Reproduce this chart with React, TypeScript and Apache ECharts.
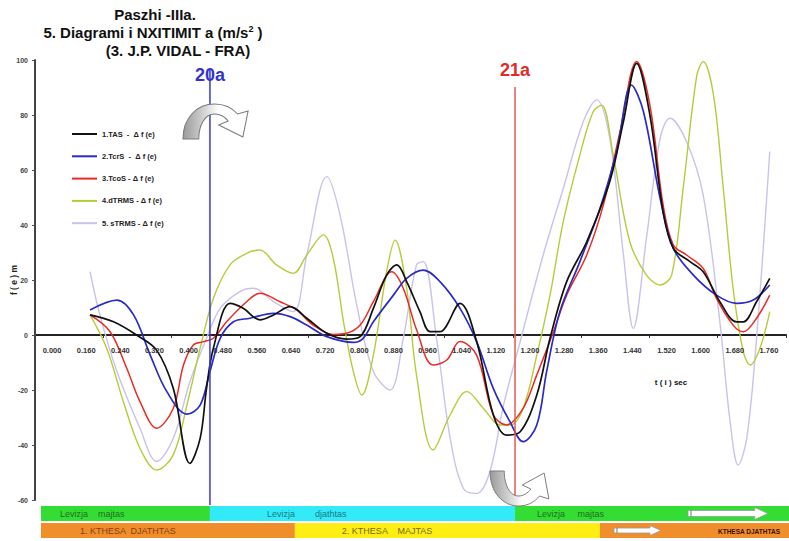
import React, { useEffect, useRef } from "react";
import * as echarts from "echarts";

const FONT = "'Liberation Sans', Arial, sans-serif";

// ---- axis ----
const tickLabels = ["0.000", "0.160", "0.240", "0.320", "0.400", "0.480", "0.560", "0.640", "0.720", "0.800", "0.880", "0.960", "1.040", "1.120", "1.200", "1.280", "1.360", "1.440", "1.520", "1.600", "1.680", "1.760"];
const yMin = -60;
const yMax = 100;
const yStep = 20;
const tMin = 0.04;
const tMax = 1.8;

// ---- series ----
const names = ["1.TAS  -  Δ f (e)", "2.TcrS  -  Δ f (e)", "3.TcoS - Δ f (e)", "4.dTRMS - Δ f (e)", "5. sTRMS - Δ f (e)"];
const colors = ["#111111", "#2b2bc6", "#ea2b24", "#b7cb3a", "#c9c2ec"];
const widths = [1.7, 1.7, 1.5, 1.4, 1.4];

const tas = [[0.169, 7.3], [0.224, 4.8], [0.278, 0], [0.325, -5.5], [0.364, -19.4], [0.403, -46.7], [0.427, -37.6], [0.442, -19.4], [0.458, -4.8], [0.497, 11.5], [0.528, 9.7], [0.567, 5.5], [0.599, 7.3], [0.638, 10.3], [0.677, 6.1], [0.724, 0.6], [0.77, -1.5], [0.802, -0.6], [0.833, 9.7], [0.864, 21.8], [0.888, 25.5], [0.911, 19.4], [0.942, 8.5], [0.966, 1.2], [0.989, 1.2], [1.036, 11.5], [1.075, -2.4], [1.114, -29], [1.145, -36.4], [1.177, -35.2], [1.216, -21.8], [1.247, -1.2], [1.286, 19.4], [1.333, 33.9], [1.387, 55.8], [1.419, 77.6], [1.45, 98.8], [1.481, 80], [1.512, 44.8], [1.536, 31.5], [1.575, 26.7], [1.606, 23], [1.645, 12.1], [1.684, 4.8], [1.7, 4.8], [1.731, 12.1], [1.762, 20.6]];
const tcrs = [[0.169, 9.1], [0.232, 12.7], [0.271, 7.3], [0.31, -7.3], [0.349, -20.6], [0.396, -28.8], [0.427, -25.5], [0.45, -13.3], [0.474, -1.2], [0.505, 4.8], [0.544, 6.1], [0.599, 7.9], [0.638, 6.7], [0.677, 3.6], [0.724, -0.6], [0.786, -2.7], [0.809, -1.2], [0.833, 4.8], [0.88, 14.5], [0.911, 20.6], [0.95, 23.6], [0.989, 19.4], [1.036, 9.7], [1.075, -2.4], [1.114, -19.4], [1.153, -31.5], [1.184, -38.8], [1.216, -32.7], [1.239, -13.3], [1.27, 8.5], [1.317, 26.7], [1.364, 46], [1.403, 66.7], [1.438, 90.9], [1.466, 81.2], [1.505, 49.7], [1.536, 31.5], [1.583, 21.8], [1.637, 14.5], [1.684, 11.5], [1.723, 12.7], [1.762, 18.2]];
const tcos = [[0.169, 7.3], [0.216, 1.2], [0.255, -12.1], [0.286, -24.2], [0.325, -33.9], [0.364, -26.7], [0.388, -10.9], [0.411, -3.6], [0.435, -2.4], [0.458, -1.2], [0.489, 4.8], [0.536, 12.1], [0.567, 15.2], [0.614, 12.1], [0.653, 9.1], [0.692, 3.6], [0.739, 0.2], [0.77, 0.6], [0.802, 3.6], [0.833, 12.1], [0.876, 23], [0.903, 17], [0.934, 2], [0.973, -10.9], [1.005, -9.1], [1.036, -2.4], [1.075, -7.3], [1.114, -29], [1.145, -32.7], [1.184, -26.7], [1.216, -14.5], [1.255, 1.2], [1.286, 14.5], [1.333, 29.1], [1.372, 47.3], [1.411, 73.9], [1.45, 99.5], [1.481, 83.6], [1.512, 47.3], [1.536, 32.7], [1.567, 29.1], [1.606, 24.2], [1.637, 13.3], [1.676, 3.6], [1.7, 1.2], [1.731, 6.1], [1.762, 14.5]];
const dtrms = [[0.169, 7.3], [0.208, -4.8], [0.247, -24.2], [0.286, -41.2], [0.325, -49.1], [0.364, -43.6], [0.396, -25.5], [0.427, -4.8], [0.458, 13.3], [0.497, 25.5], [0.536, 29.7], [0.567, 30.9], [0.606, 25.5], [0.645, 22.4], [0.677, 29.1], [0.716, 36.4], [0.739, 27.9], [0.763, 4.8], [0.786, -13.3], [0.806, -21.8], [0.833, -7.3], [0.864, 23], [0.884, 34.5], [0.911, 17], [0.934, -14.5], [0.973, -41.8], [1.013, -29], [1.052, -20.6], [1.091, -26.7], [1.13, -32.7], [1.153, -32.7], [1.184, -26.7], [1.216, -7.3], [1.247, 14.5], [1.278, 41.2], [1.317, 65.5], [1.348, 81.2], [1.368, 83.6], [1.395, 65.5], [1.434, 33.9], [1.473, 21.8], [1.505, 18.2], [1.532, 21.8], [1.559, 53.3], [1.591, 94.5], [1.606, 99.4], [1.63, 87.3], [1.653, 53.3], [1.676, 17], [1.7, -6.1], [1.716, -10.9], [1.739, -4.8], [1.762, 8.5]];
const strms = [[0.169, 23], [0.192, 7.3], [0.232, -13.3], [0.286, -33.9], [0.325, -46], [0.364, -37.6], [0.403, -17], [0.442, -1.2], [0.474, 9.7], [0.52, 15.8], [0.552, 17], [0.599, 12.1], [0.645, 8.5], [0.677, 29.1], [0.724, 57.6], [0.755, 43.6], [0.794, 10.9], [0.833, -13.3], [0.872, -20], [0.903, -1.2], [0.934, 25.5], [0.95, 26.7], [0.981, -1.2], [1.013, -37.6], [1.044, -55.8], [1.075, -57.6], [1.106, -49.7], [1.138, -25.5], [1.177, -2.4], [1.231, 29.1], [1.278, 53.3], [1.325, 77.6], [1.356, 85.5], [1.387, 71.5], [1.419, 29.1], [1.442, 2.4], [1.473, 35.2], [1.505, 71.5], [1.528, 78.8], [1.567, 70.3], [1.606, 50.9], [1.645, 4.8], [1.669, -31.5], [1.688, -47.3], [1.708, -37.6], [1.731, -1.2], [1.762, 66.7]];
const seriesData = [tas, tcrs, tcos, dtrms, strms];

// ---- annotations ----
const markers = [
  { t: 0.45, top: 96.4, label: "20a", line: "#3a3ad0", text: "#3434cc", dy: 5 },
  { t: 1.165, top: 90.2, label: "21a", line: "#e25a54", text: "#e22a2a", dy: -17 },
];
const row1 = [
  { to: 0.45, text: "Levizja    majtas", fill: "#34dd34", color: "#1f6f1f", off: 19 },
  { to: 1.165, text: "Levizja        djathtas", fill: "#33eaf8", color: "#1a7a86", off: 57 },
  { to: null, text: "Levizja     majtas", fill: "#34dd34", color: "#1f6f1f", off: 22 },
];
const row2 = [
  { to: 0.649, text: "1. KTHESA  DJATHTAS", fill: "#f08e2c", color: "#8a3e08", off: 39 },
  { to: 1.364, text: "2. KTHESA    MAJTAS", fill: "#ffee14", color: "#7a6a00", off: 47 },
  { to: null, text: "KTHESA DJATHTAS", fill: "#f08e2c", color: "#3a1000", off: -1 },
];

const arrowPath = "M0,36 C0,14 14,1 30,1 C40,1 47,5 52,11 L62,8 L57,34 L34,22 L43,18 C40,14 35,11 30,11 C21,11 15,22 15,36 Z";
let shapesRegistered = false;
function ensureShapes() {
  if (shapesRegistered) return;
  echarts.graphic.registerShape("curvedArrow", echarts.graphic.extendPath(arrowPath, {}) as any);
  shapesRegistered = true;
}

function arrowFill() {
  return new echarts.graphic.LinearGradient(0, 0, 1, 0, [
    { offset: 0, color: "#9a9a9a" },
    { offset: 0.35, color: "#d8d8d8" },
    { offset: 0.55, color: "#ffffff" },
    { offset: 1, color: "#ffffff" },
  ]);
}

export default function App() {
  const ref = useRef<HTMLDivElement>(null);

  useEffect(() => {
    if (!ref.current) return;
    ensureShapes();
    const chart = echarts.init(ref.current, null, { renderer: "svg" });

    const order = [4, 3, 2, 1, 0];
    const series = order.map((i) => ({
      name: names[i],
      type: "line",
      xAxisIndex: 1,
      yAxisIndex: 0,
      data: seriesData[i],
      smooth: 0.35,
      symbol: "none",
      showSymbol: false,
      lineStyle: { color: colors[i], width: widths[i] },
      itemStyle: { color: colors[i] },
      z: 3 + (4 - i),
    }));

    chart.setOption({
      animation: false,
      backgroundColor: "#ffffff",
      grid: { left: 35, right: 3, top: 60, bottom: 41, containLabel: false, outerBoundsMode: "none" },
      legend: {
        data: names,
        orient: "vertical",
        left: 66,
        top: 125,
        itemGap: 14.3,
        itemWidth: 25,
        itemHeight: 10,
        selectedMode: false,
        itemStyle: { opacity: 0 },
        textStyle: { fontFamily: FONT, fontSize: 7.5, fontWeight: "bold", color: "#222" },
      },
      xAxis: [
        {
          type: "category",
          data: tickLabels,
          boundaryGap: true,
          axisLine: { onZero: true, lineStyle: { color: "#222", width: 2 } },
          axisTick: { show: true, length: 3, lineStyle: { color: "#333" } },
          axisLabel: { show: false },
          splitLine: { show: false },
        },
        { type: "value", min: tMin, max: tMax, show: false, splitLine: { show: false } },
      ],
      yAxis: {
        type: "value",
        min: yMin,
        max: yMax,
        interval: yStep,
        name: "f ( e ) m",
        nameLocation: "middle",
        nameRotate: 90,
        nameGap: 17,
        nameMoveOverlap: false,
        nameTextStyle: { fontFamily: FONT, fontSize: 8.5, fontWeight: "bold", color: "#222" },
        axisLine: { show: true, onZero: false, lineStyle: { color: "#444", width: 2 } },
        axisTick: { show: true, length: 3, lineStyle: { color: "#555" } },
        axisLabel: { fontFamily: FONT, fontSize: 7, fontWeight: "bold", color: "#444", margin: 7 },
        splitLine: { show: false },
      },
      series,
    });

    const px = (t: number) => chart.convertToPixel({ xAxisIndex: 1 } as any, t) as number;
    const py = (v: number) => chart.convertToPixel({ yAxisIndex: 0 } as any, v) as number;
    const cx = (i: number) => chart.convertToPixel({ xAxisIndex: 0 } as any, i) as number;

    const graphics: any[] = [];
    const txt = (x: number, y: number, text: string, size: number, color: string, align = "center", weight = "bold", extra: any = {}) => ({
      type: "text",
      x,
      y,
      z: 20,
      style: {
        text,
        fill: color,
        fontFamily: FONT,
        fontSize: size,
        fontWeight: weight,
        align,
        textAlign: align,
        verticalAlign: "middle",
        textVerticalAlign: "middle",
        ...extra,
      },
    });

    // titles
    graphics.push(txt(155, 14, "Paszhi -IIIa.", 15, "#111"));
    graphics.push(
      txt(153, 32, "5. Diagrami i NXITIMIT a (m/s{sup|2} )", 15, "#111", "center", "bold", {
        rich: { sup: { fontFamily: FONT, fontSize: 9, fontWeight: "bold", fill: "#111", verticalAlign: "top", padding: [0, 0, 7, 0] } },
      })
    );
    graphics.push(txt(178, 50, "(3. J.P. VIDAL - FRA)", 15, "#111"));
    graphics.push(txt(671, 382, "t ( i ) sec", 8, "#111"));

    // y axis line (drawn explicitly along the plot's left edge)
    const axisX = px(tMin);
    graphics.push({ type: "rect", z: 14, shape: { x: axisX - 1, y: py(yMax), width: 2, height: py(yMin) - py(yMax) }, style: { fill: "#444" } });

    // category tick labels along the zero line
    const zeroY = py(0);
    tickLabels.forEach((lab, i) => {
      graphics.push(txt(cx(i), zeroY + 15, lab, 7.5, "#333"));
    });

    // vertical marker lines
    const bottomY = py(yMin) + 5;
    markers.forEach((m) => {
      const x = px(m.t);
      const y0 = py(m.top);
      graphics.push({ type: "line", z: 15, shape: { x1: x, y1: y0, x2: x, y2: bottomY }, style: { stroke: m.line, lineWidth: 1.5 } });
      graphics.push(txt(x, y0 + m.dy, m.label, 18, m.text));
    });

    // curved arrows
    graphics.push({ type: "curvedArrow", x: 183, y: 103, scaleX: 1.05, scaleY: 1, z: 16, style: { fill: arrowFill(), stroke: "#7a7a7a", lineWidth: 1 } });
    graphics.push({ type: "curvedArrow", x: 490, y: 507, scaleX: 0.95, scaleY: -1, z: 16, style: { fill: arrowFill(), stroke: "#7a7a7a", lineWidth: 1 } });

    // bottom bands
    const leftEdge = 41;
    const rightEdge = 789;
    const drawRow = (row: any[], y: number, h: number) => {
      let start = leftEdge;
      row.forEach((seg) => {
        const end = seg.to == null ? rightEdge : px(seg.to);
        graphics.push({ type: "rect", z: 10, shape: { x: start, y, width: end - start, height: h }, style: { fill: seg.fill } });
        if (seg.off >= 0) {
          graphics.push(txt(start + seg.off, y + h / 2 + 0.5, seg.text, 9, seg.color, "left", "normal"));
        } else {
          graphics.push(txt(end - 9, y + h / 2 + 0.5, seg.text, 6.5, seg.color, "right", "bold"));
        }
        start = end;
      });
    };
    drawRow(row1, 506, 15);
    drawRow(row2, 523, 15);

    // white arrows in the bands
    const whiteArrow = (x0: number, x1: number, cy: number, body: number, head: number) => {
      const hx = x1 - head * 1.1;
      graphics.push({
        type: "polygon",
        z: 12,
        shape: {
          points: [
            [x0, cy - body / 2],
            [hx, cy - body / 2],
            [hx, cy - head / 2],
            [x1, cy],
            [hx, cy + head / 2],
            [hx, cy + body / 2],
            [x0, cy + body / 2],
          ],
        },
        style: { fill: "#ffffff", stroke: "#9a9a9a", lineWidth: 0.8 },
      });
      graphics.push({ type: "line", z: 13, shape: { x1: x0 + 3, y1: cy - body / 2, x2: x0 + 3, y2: cy + body / 2 }, style: { stroke: "#777", lineWidth: 1 } });
    };
    whiteArrow(688, 768, 513.5, 6, 12);
    whiteArrow(614, 661, 530.5, 5, 10);

    chart.setOption({ graphic: graphics });

    return () => chart.dispose();
  }, []);

  return (
    <div
      ref={ref}
      style={{ position: "absolute", left: 0, top: 0, width: 789, height: 541, background: "#ffffff" }}
    />
  );
}
